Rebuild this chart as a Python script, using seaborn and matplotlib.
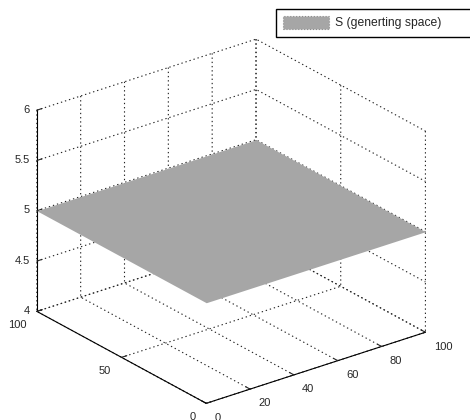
import numpy as np
import matplotlib
matplotlib.use("Agg")
import matplotlib.pyplot as plt
import seaborn as sns
from matplotlib.patches import Patch

# data
x_vals = [0, 100]
y_vals = [0, 100]
z_vals = [[5, 5], [5, 5]]
x_ticks = [0, 20, 40, 60, 80, 100]
y_ticks = [0, 50, 100]
z_ticks = [4, 4.5, 5, 5.5, 6]
z_ticklabels = ['4', '4.5', '5', '5.5', '6']
legend_label = "S (generting space)"

sns.set_style("white")
plt.rcParams['font.family'] = ['Liberation Sans', 'DejaVu Sans']
plt.rcParams['font.size'] = 8
plt.rcParams['grid.color'] = '#222222'
plt.rcParams['grid.linewidth'] = 0.8

W, H = 470, 420
fig = plt.figure(figsize=(W / 100, H / 100), dpi=100)
ax = fig.add_axes([-0.041, -0.061, 1.0404, 1.0404], projection='3d')
ax.set_proj_type('ortho')
ax.view_init(elev=24.8, azim=-127.7)
ax.set_box_aspect((1, 1, 0.80))

X, Y = np.meshgrid(np.array(x_vals, float), np.array(y_vals, float))
Z = np.array(z_vals, float)
surf_color = '#a6a6a6'
ax.plot_surface(X, Y, Z, color=surf_color, shade=False, linewidth=0, antialiased=False)

ax.set_xlim(0, 100)
ax.set_ylim(0, 100)
ax.set_zlim(4, 6)
ax.set_xticks(x_ticks)
ax.set_yticks(y_ticks)
ax.set_zticks(z_ticks)
ax.set_zticklabels(z_ticklabels)

for axis in (ax.xaxis, ax.yaxis, ax.zaxis):
    axis.set_pane_color((1, 1, 1, 0))
    axis.pane.set_edgecolor('none')
    axis.line.set_color('black')
    axis.line.set_linewidth(0.8)
    axis._axinfo['tick']['inward_factor'] = 0.0
    axis._axinfo['tick']['outward_factor'] = 0.3
    axis._axinfo['grid']['linestyle'] = (0, (1.2, 2.6))
    axis._axinfo['grid']['color'] = '#222222'
    axis._axinfo['grid']['linewidth'] = 0.8
ax.tick_params(axis='both', labelsize=8, pad=0)
ax.zaxis.set_tick_params(pad=-5)
for t in ax.get_zticklabels():
    t.set_horizontalalignment('right')
    t.set_verticalalignment('center')
for t in ax.get_yticklabels():
    t.set_horizontalalignment('right')
    t.set_verticalalignment('center')
for t in ax.get_xticklabels():
    t.set_horizontalalignment('left')
    t.set_verticalalignment('center')
ax.grid(True)

handle = Patch(facecolor=surf_color, edgecolor='#8c8c8c', linestyle=':', linewidth=0.8)
fig.legend([handle], [legend_label], loc='upper left',
           bbox_to_anchor=(276 / W, 1 - 9 / H, 230 / W, 0.001), mode='expand',
           frameon=True, fancybox=False, edgecolor='black', framealpha=1,
           handlelength=3.8, handleheight=1.3, handletextpad=0.5,
           borderpad=0.6, borderaxespad=0, fontsize=8.7)

fig.savefig('out.png', dpi=100)
